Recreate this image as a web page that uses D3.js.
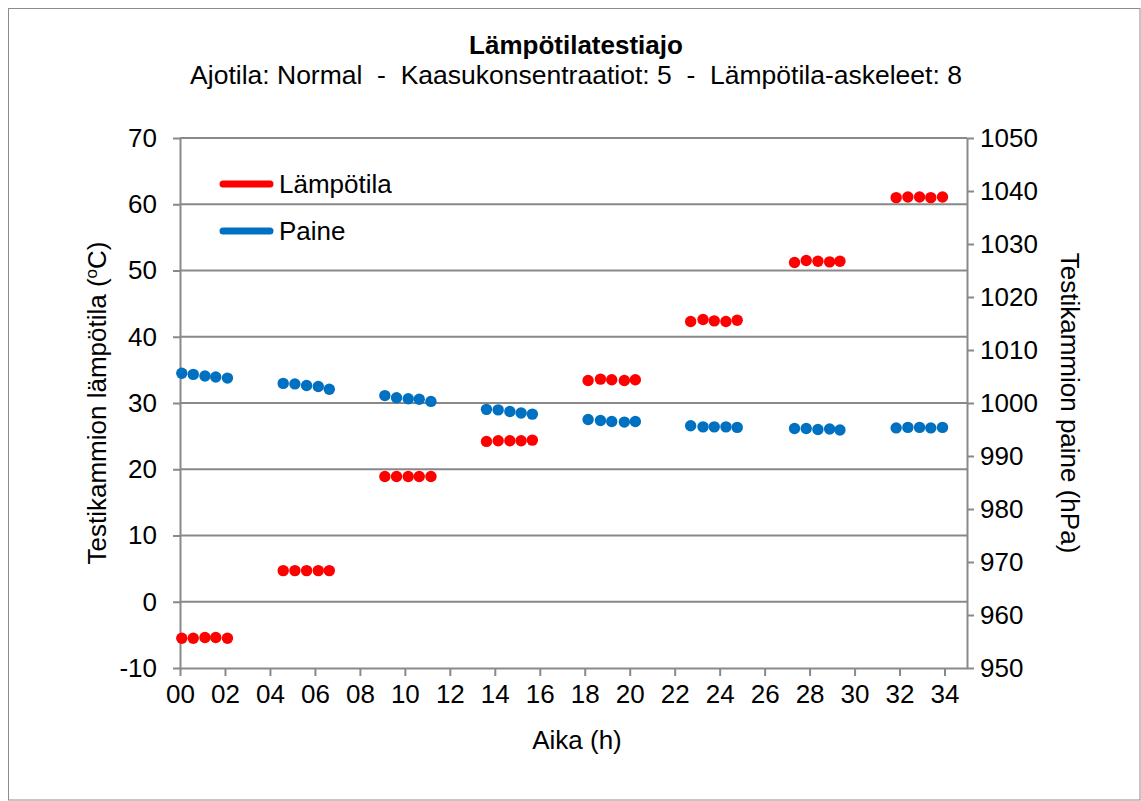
<!DOCTYPE html>
<html>
<head>
<meta charset="utf-8">
<script src="https://cdn.jsdelivr.net/npm/d3@7"></script>
<style>
  body { margin: 0; background: #fff; }
  text { font-family: "Liberation Sans", Arial, sans-serif; fill: #000; }
</style>
</head>
<body>
<div id="chart"></div>
<script>
// aika (h), 5 mittausta per askel
const hours = [
  0.08, 0.59, 1.11, 1.59, 2.11,
  4.59, 5.11, 5.63, 6.15, 6.64,
  9.11, 9.63, 10.15, 10.64, 11.16,
  13.63, 14.15, 14.67, 15.17, 15.67,
  18.15, 18.70, 19.20, 19.76, 20.25,
  22.71, 23.26, 23.76, 24.28, 24.78,
  27.33, 27.85, 28.37, 28.89, 29.35,
  31.85, 32.37, 32.89, 33.39, 33.91
];
const temperature = [
  -5.5, -5.5, -5.4, -5.4, -5.5,
  4.7, 4.7, 4.7, 4.7, 4.7,
  18.9, 18.9, 18.9, 18.9, 18.9,
  24.2, 24.3, 24.3, 24.3, 24.4,
  33.4, 33.6, 33.5, 33.4, 33.5,
  42.3, 42.6, 42.4, 42.3, 42.5,
  51.2, 51.5, 51.4, 51.3, 51.4,
  61.0, 61.1, 61.1, 61.0, 61.1
];
const pressure = [
  1005.6, 1005.4, 1005.1, 1004.9, 1004.7,
  1003.7, 1003.6, 1003.3, 1003.1, 1002.6,
  1001.4, 1001.0, 1000.8, 1000.7, 1000.3,
  998.8, 998.7, 998.4, 998.1, 997.9,
  996.9, 996.7, 996.5, 996.4, 996.5,
  995.7, 995.5, 995.5, 995.5, 995.4,
  995.2, 995.2, 995.0, 995.1, 994.9,
  995.3, 995.4, 995.4, 995.3, 995.4
];
const xTicks = d3.range(0, 35, 2);
const tempTicks = d3.range(-10, 71, 10);
const pressTicks = d3.range(950, 1051, 10);

const width = 1141, height = 801;
const margin = { top: 138, right: 174, bottom: 133, left: 180 };
const axisColor = "#898989";
const red = "#ff0000", blue = "#0070c0";
const fs = 26;

const svg = d3.select("#chart").append("svg")
  .attr("width", width).attr("height", height);

svg.append("rect")
  .attr("x", 8.5).attr("y", 8.5)
  .attr("width", width - 9.5).attr("height", height - 9.5)
  .attr("fill", "#fff").attr("stroke", "#8c8c8c").attr("stroke-width", 1);

const x = d3.scaleLinear().domain([0, 35])
  .range([margin.left, width - margin.right]);
const yT = d3.scaleLinear().domain([-10, 70])
  .range([height - margin.bottom, margin.top]);
const yP = d3.scaleLinear().domain([950, 1050])
  .range([height - margin.bottom, margin.top]);

// gridlines
svg.append("g")
  .selectAll("line")
  .data(tempTicks.slice(1))
  .join("line")
  .attr("x1", x(0)).attr("x2", x(35))
  .attr("y1", d => yT(d)).attr("y2", d => yT(d))
  .attr("stroke", axisColor).attr("stroke-width", 2);

function styleAxis(g) {
  g.select(".domain").attr("stroke", axisColor).attr("stroke-width", 2);
  g.selectAll(".tick line").attr("stroke", axisColor).attr("stroke-width", 2);
  g.selectAll(".tick text")
    .attr("font-size", fs)
    .style("font-family", "'Liberation Sans', Arial, sans-serif")
    .attr("fill", "#000");
}

svg.append("g")
  .attr("transform", `translate(0,${height - margin.bottom})`)
  .call(d3.axisBottom(x).tickValues(xTicks).tickSize(8).tickSizeOuter(0)
    .tickPadding(9).tickFormat(d => String(d).padStart(2, "0")))
  .call(styleAxis);

svg.append("g")
  .attr("transform", `translate(${margin.left},0)`)
  .call(d3.axisLeft(yT).tickValues(tempTicks).tickSize(7).tickSizeOuter(0)
    .tickPadding(16).tickFormat(d => String(d)))
  .call(styleAxis);

svg.append("g")
  .attr("transform", `translate(${width - margin.right},0)`)
  .call(d3.axisRight(yP).tickValues(pressTicks).tickSize(7).tickSizeOuter(0)
    .tickPadding(6).tickFormat(d => String(d)))
  .call(styleAxis);

// data points
const points = hours.map((h, i) => ({ h, t: temperature[i], p: pressure[i] }));

svg.append("g")
  .selectAll("circle")
  .data(points)
  .join("circle")
  .attr("cx", d => x(d.h)).attr("cy", d => yT(d.t))
  .attr("r", 5.7).attr("fill", red);

svg.append("g")
  .selectAll("circle")
  .data(points)
  .join("circle")
  .attr("cx", d => x(d.h)).attr("cy", d => yP(d.p))
  .attr("r", 5.7).attr("fill", blue);

// legend
const legend = [
  { name: "Lämpötila", color: red, y: 184 },
  { name: "Paine", color: blue, y: 231 }
];
const lg = svg.append("g");
lg.selectAll("line")
  .data(legend)
  .join("line")
  .attr("x1", 223).attr("x2", 270)
  .attr("y1", d => d.y).attr("y2", d => d.y)
  .attr("stroke", d => d.color).attr("stroke-width", 7)
  .attr("stroke-linecap", "round");
lg.selectAll("text")
  .data(legend)
  .join("text")
  .attr("x", 279).attr("y", d => d.y + 9)
  .attr("font-size", fs)
  .text(d => d.name);

// titles
svg.append("text")
  .attr("x", 576).attr("y", 54)
  .attr("text-anchor", "middle")
  .attr("font-size", fs).attr("font-weight", "bold")
  .text("Lämpötilatestiajo");

svg.append("text")
  .attr("x", 576).attr("y", 84)
  .attr("text-anchor", "middle")
  .attr("font-size", 26.5)
  .attr("xml:space", "preserve")
  .style("white-space", "pre")
  .text("Ajotila: Normal  -  Kaasukonsentraatiot: 5  -  Lämpötila-askeleet: 8");

svg.append("text")
  .attr("x", 577).attr("y", 749)
  .attr("text-anchor", "middle")
  .attr("font-size", fs)
  .text("Aika (h)");

const yl = svg.append("text")
  .attr("transform", `translate(106,${(margin.top + height - margin.bottom) / 2}) rotate(-90)`)
  .attr("text-anchor", "middle")
  .attr("font-size", fs);
yl.append("tspan").text("Testikammion lämpötila (");
yl.append("tspan").attr("font-size", 17).attr("dy", -9).text("o");
yl.append("tspan").attr("dy", 9).text("C)");

svg.append("text")
  .attr("transform", `translate(1061,${(margin.top + height - margin.bottom) / 2}) rotate(90)`)
  .attr("text-anchor", "middle")
  .attr("font-size", fs)
  .text("Testikammion paine (hPa)");
</script>
</body>
</html>
